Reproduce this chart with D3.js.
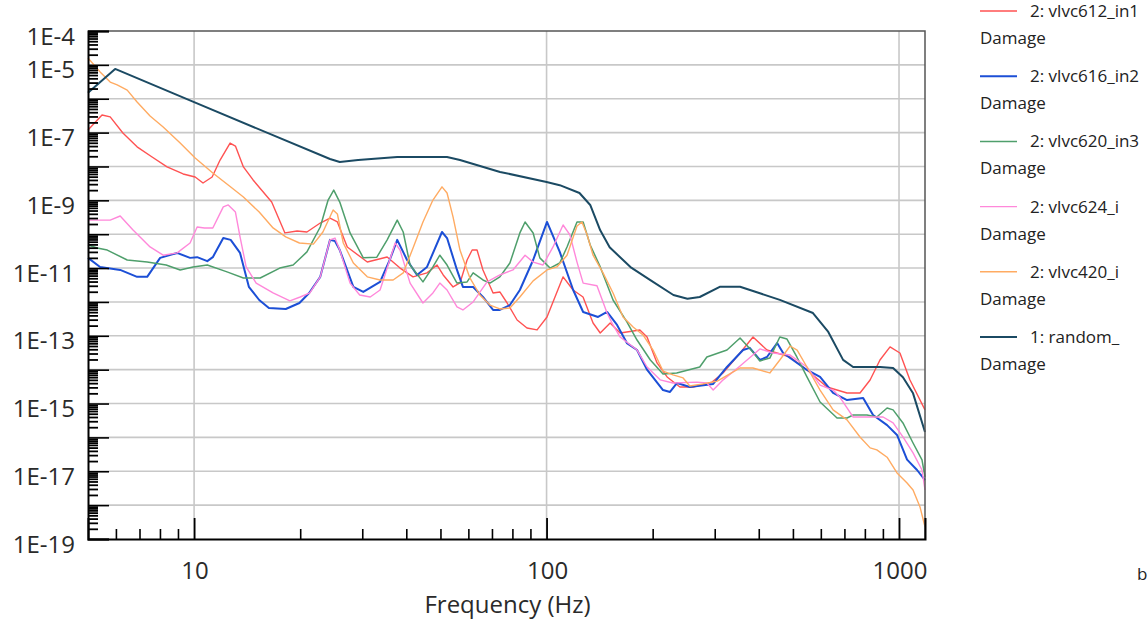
<!DOCTYPE html>
<html>
<head>
<meta charset="utf-8">
<script src="https://cdn.jsdelivr.net/npm/d3@7"></script>
<style>
  body { margin: 0; background: #fff; }
  svg { display: block; font-family: "Open Sans", "Noto Sans", sans-serif; }
</style>
</head>
<body>
<svg id="chart" width="1148" height="624"></svg>
<script>
// Damage spectra: [frequency Hz, damage]
const red = [[5.0,1.19e-7],[5.48,3.3e-7],[5.78,2.9e-7],[6.28,9.7e-8],[6.89,3.8e-8],[7.6,1.9e-8],[8.38,9.7e-9],[9.31,6.0e-9],[10.07,4.9e-9],[10.6,3.25e-9],[11.25,4.9e-9],[11.85,1.55e-8],[12.65,4.9e-8],[13.1,4.0e-8],[13.8,9.7e-9],[14.7,4.0e-9],[16.6,8.9e-10],[18.1,1.09e-10],[19.6,1.24e-10],[20.9,1.16e-10],[22.8,2.14e-10],[24.3,3.0e-10],[25.5,2.3e-10],[27.2,4.2e-11],[31.0,1.51e-11],[35.3,2.12e-11],[38.4,1.0e-11],[41.8,5.5e-12],[45.8,7.2e-12],[48.9,1.23e-11],[50.9,6.25e-12],[54.3,2.77e-12],[56.8,3.63e-12],[59.5,1.73e-11],[61.5,3.42e-11],[63.5,3.42e-11],[66.0,8.8e-12],[70.5,1.84e-12],[73.7,1.97e-12],[77.3,9.3e-13],[82.5,2.93e-13],[88.0,1.7e-13],[94.0,1.49e-13],[100.3,3.6e-13],[111.4,5.5e-12],[118.9,2.25e-12],[126.9,1.4e-12],[135.5,2.39e-13],[142,1.21e-13],[151.5,2.39e-13],[161.7,1.21e-13],[184,1.49e-13],[192.8,9.2e-14],[205.8,1.58e-14],[219.8,6.1e-15],[239,3.08e-15],[260.4,3.08e-15],[294.8,4.3e-15],[316.7,8.0e-15],[354,3.1e-14],[385.3,9.2e-14],[422,3.8e-14],[490.8,2.37e-14],[548,9.8e-15],[624.6,3.08e-15],[712,2.05e-15],[775,2.05e-15],[827.8,4.97e-15],[883,1.93e-14],[943,4.7e-14],[1006,3.1e-14],[1074,4.97e-15],[1185,6.5e-16]];
const blue = [[5.0,2.0e-11],[5.41,1.08e-11],[6.17,8.8e-12],[6.89,5.5e-12],[7.36,5.5e-12],[8.01,2.0e-11],[8.95,2.8e-11],[9.74,2.0e-11],[10.2,2.1e-11],[10.9,1.6e-11],[11.3,2.1e-11],[12.1,7.7e-11],[12.7,6.8e-11],[13.5,2.8e-11],[14.3,2.8e-12],[15.3,1.14e-12],[16.3,6.6e-13],[18.2,6.2e-13],[19.9,9.3e-13],[21.2,1.84e-12],[22.8,5.5e-12],[24.3,6.8e-11],[25.1,6.3e-11],[25.9,3.4e-11],[28.3,2.8e-12],[30.2,1.97e-12],[33.7,3.9e-12],[35.9,1.73e-11],[37.7,6.8e-11],[40.2,1.73e-11],[42.9,6.25e-12],[45.8,1.08e-11],[50.5,1.16e-10],[52.2,7.7e-11],[55.7,8.8e-12],[57.9,2.77e-12],[61.9,2.77e-12],[66.0,1.4e-12],[70.5,5.8e-13],[73.7,5.8e-13],[78.7,8.1e-13],[84.0,2.25e-12],[91.6,1.73e-11],[100.3,2.3e-10],[109,3.0e-11],[119,2.25e-12],[127,5.05e-13],[140,3.6e-13],[148.5,5.05e-13],[158.5,2.09e-13],[169,6.1e-14],[180.6,3.8e-14],[193,9.8e-15],[214,2.5e-15],[224,2.2e-15],[234.6,4.05e-15],[255,3.08e-15],[297,3.8e-15],[325,1.2e-14],[361,3.8e-14],[377,4.4e-14],[403,1.93e-14],[422,2.37e-14],[451,6.1e-14],[469,3.1e-14],[548,9.8e-15],[597,6.1e-15],[650,2.05e-15],[712,1.27e-15],[791,1.46e-15],[844,4.6e-16],[925,2.3e-16],[987,1.18e-16],[1054,2.2e-17],[1125,1.09e-17],[1185,5.5e-18]];
const green = [[5.0,4.8e-11],[5.31,3.9e-11],[5.67,3.4e-11],[6.46,1.73e-11],[7.36,1.51e-11],[8.33,1.23e-11],[9.13,8.8e-12],[9.93,1.08e-11],[10.9,1.23e-11],[12.4,7.7e-12],[13.8,5.1e-12],[15.4,5.1e-12],[17.5,1.0e-11],[19.1,1.23e-11],[20.9,3.0e-11],[22.8,1.63e-10],[24.0,1.02e-9],[24.9,2.0e-9],[25.9,8.9e-10],[27.7,1.09e-10],[30.2,2.0e-11],[33.0,2.1e-11],[35.3,6.8e-11],[37.7,2.6e-10],[39.2,1.16e-10],[41.0,1.23e-11],[44.6,3.9e-12],[47.6,1.08e-11],[49.8,2.4e-11],[52.2,1.23e-11],[55.7,3.6e-12],[59.5,3.9e-12],[61.9,7.2e-12],[66.0,4.45e-12],[69.1,3.6e-12],[73.7,5.5e-12],[78.7,1.41e-11],[84.0,1.09e-10],[86.9,2.3e-10],[91.6,1.09e-10],[95.7,2.0e-11],[102.3,1.0e-11],[109,1.41e-11],[114.3,4.2e-11],[122,2.3e-10],[127,2.3e-10],[133,4.8e-11],[142,1.08e-11],[154.4,1.14e-12],[169,2.56e-13],[180.6,7.5e-14],[197,1.93e-14],[214,7.5e-15],[234,8.0e-15],[272,1.2e-14],[285,2.37e-14],[325,3.8e-14],[354,8.6e-14],[385,3.3e-14],[403,1.81e-14],[430,2.2e-14],[459,9.2e-14],[481,8.0e-14],[513,2.37e-14],[548,6.1e-15],[597,1.11e-15],[667,3.75e-16],[712,3.75e-16],[741,4.6e-16],[811,4.6e-16],[865,4.0e-16],[925,7.4e-16],[962,6.5e-16],[1026,2.67e-16],[1096,6.85e-17],[1162,2.16e-17],[1185,6.8e-18]];
const pink = [[5.0,2.6e-10],[5.78,2.6e-10],[6.17,3.45e-10],[6.71,1.33e-10],[7.5,4.2e-11],[8.17,2.4e-11],[8.95,2.8e-11],[9.74,5.5e-11],[10.2,1.63e-10],[10.7,1.53e-10],[11.3,1.53e-10],[12.1,6.4e-10],[12.5,7.3e-10],[13.1,4.5e-10],[13.5,8.3e-11],[14.05,1.08e-11],[15.0,3.6e-12],[16.75,1.84e-12],[18.7,1.07e-12],[20.0,1.4e-12],[21.3,1.84e-12],[22.8,5.5e-12],[24.3,6.8e-11],[25.1,7.7e-11],[25.9,3.4e-11],[27.7,3.6e-12],[29.5,1.6e-12],[31.6,1.4e-12],[33.7,2.25e-12],[35.9,1.73e-11],[37.2,5.5e-11],[38.4,3.4e-11],[41.0,3.6e-12],[44.6,9.3e-13],[47.6,1.84e-12],[49.8,3.6e-12],[52.2,2.25e-12],[55.7,7.1e-13],[57.9,5.8e-13],[61.9,1.0e-12],[67.8,3.9e-12],[73.7,6.25e-12],[80.3,8.8e-12],[86.9,2.4e-11],[91.6,1.5e-11],[97.7,1.23e-11],[104.3,4.2e-11],[111.4,1.87e-10],[116.5,9.5e-11],[122,1.5e-11],[127,3.6e-12],[139,3.0e-12],[148.5,4.7e-13],[154.4,2.09e-13],[161.7,9.2e-14],[180.6,3.8e-14],[192.8,1.2e-14],[210,5.0e-15],[228.5,4.05e-15],[267,4.3e-15],[285,4.05e-15],[297,2.5e-15],[317,5.0e-15],[354,1.29e-14],[403,4.1e-14],[439,3.1e-14],[491,2.7e-14],[548,1.2e-14],[597,3.5e-15],[650,2.5e-15],[679,1.56e-15],[712,7.4e-16],[741,4.0e-16],[901,4.0e-16],[962,2.67e-16],[1026,1.03e-16],[1096,3.5e-17],[1162,1.09e-17],[1185,2.8e-18]];
const orange = [[5.0,1.6e-5],[5.41,6.2e-6],[5.78,3.1e-6],[6.05,2.55e-6],[6.46,1.8e-6],[6.89,8.0e-7],[7.5,3.1e-7],[8.17,1.47e-7],[9.13,4.9e-8],[10.07,1.78e-8],[11.3,6.4e-9],[12.6,2.65e-9],[13.8,1.26e-9],[15.3,4.5e-10],[16.75,1.53e-10],[18.2,8.3e-11],[19.9,5.5e-11],[21.8,5.1e-11],[23.2,1.16e-10],[24.8,5.2e-10],[25.5,3.95e-10],[26.5,5.5e-11],[28.3,1.41e-11],[31.0,5.5e-12],[33.7,4.45e-12],[36.7,4.45e-12],[39.2,7.2e-12],[41.8,3.9e-11],[44.6,2.3e-10],[47.6,1.02e-9],[50.5,2.5e-9],[52.2,1.65e-9],[54.3,3.2e-10],[56.8,3.4e-11],[60.6,5.1e-12],[64.7,1.6e-12],[69.1,8.1e-13],[73.7,6.2e-13],[78.7,6.6e-13],[84.0,1.4e-12],[91.6,4.2e-12],[100.3,8.8e-12],[107,1.08e-11],[114.3,2.4e-11],[122,1.75e-10],[126,2.3e-10],[130.4,9.5e-11],[135.5,2.4e-11],[144.6,7.2e-12],[154.4,1.84e-12],[164.8,3.6e-13],[176,1.82e-13],[187.8,1.06e-13],[200.5,3.8e-14],[214,9.1e-15],[228.5,7.0e-15],[244,5.7e-15],[255,3.3e-15],[278,3.8e-15],[305,4.6e-15],[331,7.5e-15],[354,1.12e-14],[385,1.12e-14],[430,8.0e-15],[459,1.93e-14],[491,5.0e-14],[514,3.8e-14],[548,1.2e-14],[597,2.5e-15],[650,6.5e-16],[712,3.3e-16],[775,1.03e-16],[828,4.9e-17],[865,4.3e-17],[925,2.6e-17],[987,8.9e-18],[1054,4.5e-18],[1096,2.8e-18],[1147,8.8e-19],[1185,2.3e-19]];
const random = [[5.0,1.5e-6],[5.97,7.6e-6],[10,7.9e-7],[24.3,1.66e-8],[25.9,1.35e-8],[29.2,1.55e-8],[37.7,1.9e-8],[52.2,1.9e-8],[56.8,1.55e-8],[73.8,6.9e-9],[100,3.5e-9],[109,2.8e-9],[124,1.65e-9],[133,7.3e-10],[142,1.3e-10],[151,4.1e-11],[173,1.07e-11],[197,4.4e-12],[229,1.6e-12],[251,1.24e-12],[272,1.4e-12],[310,2.8e-12],[354,2.8e-12],[403,1.8e-12],[459,1.15e-12],[570,4.7e-13],[630,1.3e-13],[694,1.95e-14],[741,1.2e-14],[884,1.2e-14],[962,1.12e-14],[1026,6e-15],[1096,2e-15],[1185,1.45e-16]];

const seriesNames = ["2: vlvc612_in1", "2: vlvc616_in2", "2: vlvc620_in3", "2: vlvc624_i", "2: vlvc420_i", "1: random_"];
const seriesData = [red, blue, green, pink, orange, random];
const seriesColors = ["#ff5252", "#1c4fd6", "#4f9f6c", "#ff88da", "#ffab62", "#1b4a63"];
const seriesWidths = [1.4, 2, 1.5, 1.4, 1.4, 2];

const xMajor = [10, 100, 1000];
const xMinor = [6, 7, 8, 9, 20, 30, 40, 50, 60, 70, 80, 90, 200, 300, 400, 500, 600, 700, 800, 900];
const yDecades = d3.range(-19, -3).map(e => Math.pow(10, e));
const yLabels = [["1E-4", 1e-4], ["1E-5", 1e-5], ["1E-7", 1e-7], ["1E-9", 1e-9], ["1E-11", 1e-11],
                 ["1E-13", 1e-13], ["1E-15", 1e-15], ["1E-17", 1e-17], ["1E-19", 1e-19]];

const svg = d3.select('#chart');
const plot = { left: 88, right: 925, top: 31, bottom: 539 };

const x = d3.scaleLog().domain([5, 1185]).range([plot.left, plot.right]);
const y = d3.scaleLog().domain([1e-19, 1e-4]).range([plot.bottom, plot.top]);

// grid
svg.append('g').selectAll('line')
  .data(yDecades.filter(v => v > 1e-19 && v < 1e-4))
  .join('line')
  .attr('x1', plot.left).attr('x2', plot.right)
  .attr('y1', d => y(d)).attr('y2', d => y(d))
  .attr('stroke', '#c8c8c8').attr('stroke-width', 1.6);
svg.append('g').selectAll('line')
  .data(xMajor)
  .join('line')
  .attr('x1', d => x(d)).attr('x2', d => x(d))
  .attr('y1', plot.top).attr('y2', plot.bottom)
  .attr('stroke', '#c8c8c8').attr('stroke-width', 1.6);

// curves
const line = d3.line().x(d => x(d[0])).y(d => y(d[1]));
svg.append('g').selectAll('path')
  .data(seriesData)
  .join('path')
  .attr('d', line)
  .attr('fill', 'none')
  .attr('stroke', (d, i) => seriesColors[i])
  .attr('stroke-width', (d, i) => seriesWidths[i])
  .attr('stroke-linejoin', 'round');

// frame
svg.append('path')
  .attr('d', `M${plot.left},${plot.top}H${plot.right}V${plot.bottom}`)
  .attr('fill', 'none').attr('stroke', '#555').attr('stroke-width', 1.5);

// y minor ticks (2..9 in each decade), major ticks at decades
const yMinor = [];
d3.range(-19, -4).forEach(e => d3.range(2, 10).forEach(k => yMinor.push(k * Math.pow(10, e))));
svg.append('g').attr('transform', `translate(${plot.left},0)`)
  .call(d3.axisRight(y).tickValues(yMinor).tickSize(10).tickFormat(''))
  .call(g => g.select('.domain').remove())
  .selectAll('line').attr('stroke', '#000').attr('stroke-width', 1.8);
svg.append('g').attr('transform', `translate(${plot.left},0)`)
  .call(d3.axisRight(y).tickValues(yDecades).tickSize(21).tickFormat(''))
  .call(g => g.select('.domain').attr('stroke', '#000').attr('stroke-width', 2))
  .selectAll('line').attr('stroke', '#000').attr('stroke-width', 1.6);

// x ticks pointing up
svg.append('g').attr('transform', `translate(0,${plot.bottom})`)
  .call(d3.axisTop(x).tickValues(xMinor).tickSize(10).tickFormat(''))
  .call(g => g.select('.domain').remove())
  .selectAll('line').attr('stroke', '#000').attr('stroke-width', 1.6);
svg.append('g').attr('transform', `translate(0,${plot.bottom})`)
  .call(d3.axisTop(x).tickValues(xMajor).tickSize(21).tickFormat(''))
  .call(g => g.select('.domain').attr('stroke', '#000').attr('stroke-width', 2))
  .selectAll('line').attr('stroke', '#000').attr('stroke-width', 1.8);

// tick labels
svg.append('g').selectAll('text')
  .data(yLabels)
  .join('text')
  .attr('x', 75)
  .attr('y', d => y(d[1]) + 13.5)
  .attr('text-anchor', 'end')
  .attr('font-size', 24)
  .attr('fill', '#2a2a2a')
  .text(d => d[0]);
svg.append('g').selectAll('text')
  .data(xMajor)
  .join('text')
  .attr('x', d => x(d) + 1)
  .attr('y', 579)
  .attr('text-anchor', 'middle')
  .attr('font-size', 24)
  .attr('fill', '#2a2a2a')
  .text(d => d);

svg.append('text')
  .attr('x', (plot.left + plot.right) / 2 + 1)
  .attr('y', 613)
  .attr('text-anchor', 'middle')
  .attr('font-size', 24)
  .attr('fill', '#2a2a2a')
  .text('Frequency (Hz)');

// legend
const legend = svg.append('g').selectAll('g')
  .data(seriesNames)
  .join('g')
  .attr('transform', (d, i) => `translate(0,${11 + i * 65.2})`);
legend.append('line')
  .attr('x1', 980).attr('x2', 1017)
  .attr('stroke', (d, i) => seriesColors[i])
  .attr('stroke-width', (d, i) => seriesWidths[i]);
legend.append('text')
  .attr('x', 1030).attr('y', 6)
  .attr('font-size', 17)
  .attr('fill', '#222')
  .text(d => d);
legend.append('text')
  .attr('x', 980).attr('y', 33)
  .attr('font-size', 17)
  .attr('fill', '#222')
  .text('Damage');

svg.append('text')
  .attr('x', 1137).attr('y', 580)
  .attr('font-size', 17)
  .attr('fill', '#222')
  .text('b');
</script>
</body>
</html>
